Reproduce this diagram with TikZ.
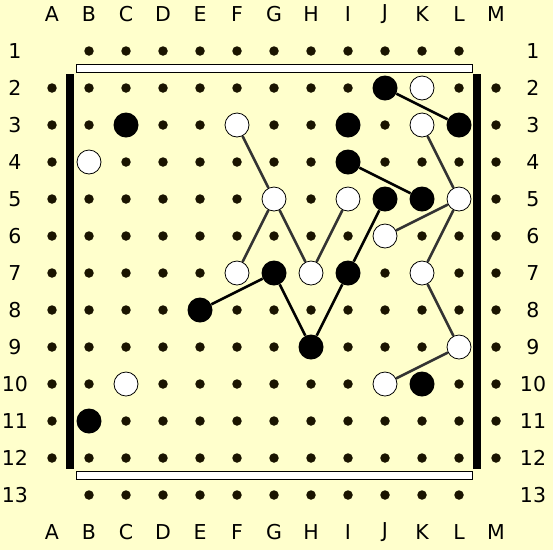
\documentclass[tikz,border=0pt]{standalone}
\usepackage{fontspec}
\setmainfont{DejaVu Sans}

\definecolor{boardbg}{HTML}{FFFFCC}
\definecolor{holecol}{HTML}{1A1400}
\definecolor{whitelink}{HTML}{333333}

\tikzset{
  hole/.style={circle, fill=holecol, inner sep=0pt, minimum size=9.5pt},
  black peg/.style={circle, fill=black, inner sep=0pt, minimum size=25pt},
  white peg/.style={circle, draw=black, line width=0.8pt, fill=white, inner sep=0pt, minimum size=24pt},
  black link/.style={line width=2.6pt, black},
  white link/.style={line width=2.6pt, whitelink},
  white bar/.style={fill=white, draw=black, line width=0.8pt},
  coord label/.style={font=\fontsize{20.5}{20.5}\selectfont},
}

\begin{document}
\begin{tikzpicture}[x=37pt, y=-37pt]
  \fill[boardbg] (-0.4054,-0.3784) rectangle (14.5405,14.4865);
  \useasboundingbox (-0.4054,-0.3784) rectangle (14.5405,14.4865);

  % coordinates round the board
  \foreach \l [count=\c] in {A,B,C,D,E,F,G,H,I,J,K,L,M} {
    \node[coord label] (top\l) at (\c,0) {\l};
    \node[coord label] (bot\l) at (\c,14) {\l};
  }
  \foreach \r in {1,...,13} {
    \node[coord label] (left\r) at (0,\r) {\r};
    \node[coord label] (right\r) at (14,\r) {\r};
  }

  % holes
  \foreach \c in {1,...,13}
    \foreach \r in {1,...,13} {
      \pgfmathtruncatemacro{\corner}{(\c==1 || \c==13) && (\r==1 || \r==13)}
      \ifnum\corner=0 \node[hole] (h-\c-\r) at (\c,\r) {}; \fi
    }

  % border lines
  \draw[white bar] (1.649,1.351) rectangle (12.351,1.568);
  \draw[white bar] (1.649,12.351) rectangle (12.351,12.568);
  \fill[black] (1.378,1.622) rectangle (1.595,12.297);
  \fill[black] (12.378,1.622) rectangle (12.595,12.297);

  % pegs
  \foreach \n/\c/\r in {J2/10/2, C3/3/3, I3/9/3, L3/12/3, I4/9/4, J5/10/5,
                        K5/11/5, G7/7/7, I7/9/7, E8/5/8, H9/8/9, K10/11/10, B11/2/11}
    \node[black peg] (\n) at (\c,\r) {};
  \foreach \n/\c/\r in {K2/11/2, F3/6/3, K3/11/3, B4/2/4, G5/7/5, I5/9/5, L5/12/5,
                        J6/10/6, F7/6/7, H7/8/7, K7/11/7, L9/12/9, C10/3/10, J10/10/10}
    \node[white peg] (\n) at (\c,\r) {};

  % links
  \foreach \a/\b in {J2/L3, I4/K5, J5/I7, I7/H9, H9/G7, G7/E8}
    \draw[black link] (\a) -- (\b);
  \foreach \a/\b in {F3/G5, G5/F7, G5/H7, H7/I5, K3/L5, L5/J6, L5/K7, K7/L9, L9/J10}
    \draw[white link] (\a) -- (\b);
\end{tikzpicture}
\end{document}
